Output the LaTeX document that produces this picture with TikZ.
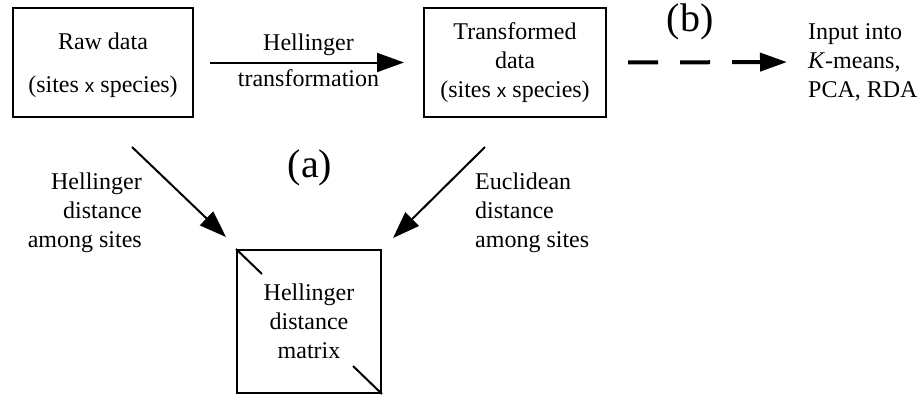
\documentclass[tikz,border=0pt]{standalone}
\usepackage{fontspec}
\newfontfamily\timesf{Liberation Serif}
\newfontfamily\helvf{Liberation Sans}
\usetikzlibrary{arrows.meta,positioning,calc}

\begin{document}
\begin{tikzpicture}[x=1pt,y=-1pt,
  box/.style={draw,line width=2pt,minimum width=180pt,minimum height=109pt,align=center,inner sep=0pt},
  lab/.style={font=\timesf\fontsize{24}{29}\selectfont,inner sep=0pt},
  big/.style={font=\timesf\fontsize{40}{44}\selectfont,inner sep=0pt},
  arr/.style={line width=2pt,-{Triangle[length=27pt,width=19pt]}}]
 \useasboundingbox (0,0) rectangle (924,394);
 % the three boxes
 \node[box,lab] (raw) at (103,62.5) {\rule{0pt}{22.5pt}Raw data\\[14pt](sites {\helvf\fontsize{19}{29}\selectfont x} species)};
 \node[box,lab,minimum width=182pt] (trans) at (515,62.5) {Transformed\\data\\(sites {\helvf\fontsize{19}{29}\selectfont x} species)};
 \node[box,lab,minimum width=144pt,minimum height=143pt] (mat) at (309,321.5) {Hellinger\\distance\\matrix};
 \draw[line width=2pt] (mat.north west) -- ++(26,25);
 \draw[line width=2pt] (mat.south east) -- ++(-29,-28);
 \node[lab,anchor=west,align=left] (input) at (808,62) {Input into\\\textit{K}-means,\\PCA, RDA};

 % transformation
 \draw[arr,shorten <=16pt,shorten >=19pt] (raw.east) -- (trans.west)
   node[lab,pos=0.5,above=6pt] (hell) {Hellinger}
   node[lab,pos=0.5,below=6pt] (tf) {transformation};
 \draw[line width=4pt,dash pattern=on 30pt off 22pt,-{Triangle[length=27pt,width=18pt]},shorten <=21pt,shorten >=21pt] (trans.east) -- (input.west);
 \node[big] (b) at (690,22) {(b)};

 % distances
 \coordinate (r1) at ($(raw.south)+(29,29)$);
 \coordinate (r2) at ($(mat.north west)+(-10,-12)$);
 \coordinate (t1) at ($(trans.south)+(-30,29)$);
 \coordinate (t2) at ($(mat.north east)+(11,-11)$);
 \draw[arr] (r1) -- (r2);
 \draw[arr] (t1) -- (t2);
 \node[big] (a) at (310,168) {(a)};
 \node[lab,anchor=east,align=right] (hd) at (142,213) {Hellinger\\distance\\among sites};
 \node[lab,anchor=west,align=left] (ed) at (475,213) {Euclidean\\distance\\among sites};
\end{tikzpicture}
\end{document}
